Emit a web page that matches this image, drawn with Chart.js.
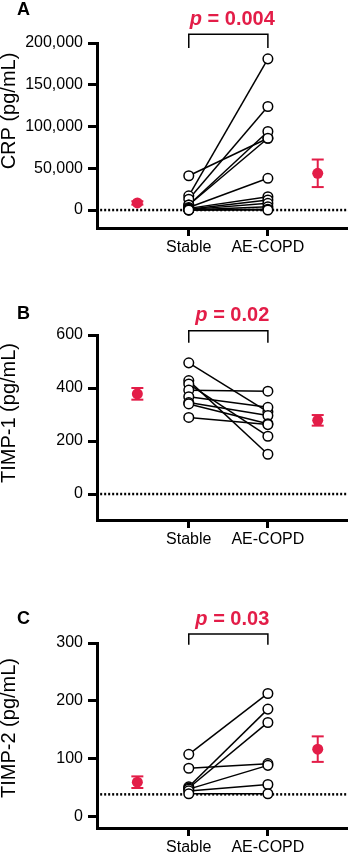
<!DOCTYPE html>
<html>
<head>
<meta charset="utf-8">
<script src="https://cdn.jsdelivr.net/npm/chart.js@4/dist/chart.umd.min.js"></script>
<style>
  html, body { margin: 0; padding: 0; background: #fff; width: 355px; height: 853px; overflow: hidden; }
  .panel { position: absolute; left: 0; width: 355px; }
  canvas { display: block; }
</style>
</head>
<body>
<div class="panel" style="top:0px;height:285px"><canvas id="cA" width="355" height="285" style="width:355px;height:285px"></canvas></div>
<div class="panel" style="top:285px;height:283px"><canvas id="cB" width="355" height="283" style="width:355px;height:283px"></canvas></div>
<div class="panel" style="top:568px;height:285px"><canvas id="cC" width="355" height="285" style="width:355px;height:285px"></canvas></div>
<script>
// ---------------- DATA ----------------
const categories = ['Stable', 'AE-COPD'];

// Panel A: CRP (pg/mL), paired patients
const crpStable = [41000, 17000, 13000, 6000, 6000, 3000, 2000, 1000, 500, 200, 0, 0];
const crpAECOPD = [86000, 181000, 124000, 94000, 86000, 38000, 16000, 12000, 8000, 4000, 1000, 0];
const crpMean = [8500, 44000];
const crpSEM = [2000, 16500];
const crpTicks = [0, 50000, 100000, 150000, 200000];

// Panel B: TIMP-1 (pg/mL)
const timp1Stable = [495, 428, 415, 392, 367, 345, 340, 289];
const timp1AECOPD = [310, 150, 218, 388, 327, 296, 265, 262];
const timp1Mean = [378, 278];
const timp1SEM = [22, 20];
const timp1Ticks = [0, 200, 400, 600];

// Panel C: TIMP-2 (pg/mL)
const timp2Stable = [108, 84, 52, 50, 48, 45, 40];
const timp2AECOPD = [213, 92, 186, 163, 89, 56, 40];
const timp2Mean = [60, 117];
const timp2SEM = [10, 22];
const timp2Ticks = [0, 100, 200, 300];

const pValues = ['0.004', '0.02', '0.03'];
const refLineValues = [0, 0, 39];

// ---------------- STYLE / LAYOUT ----------------
const RED = '#e31d48';
const FONT = '"Liberation Sans", Arial, Helvetica, sans-serif';
const X_POS = { stable: 1, ae: 2, meanLeft: 0.35, meanRight: 2.63 };
const X_MIN = -0.16, X_MAX = 3.0;

const panelText = {
  id: 'panelText',
  afterDraw(chart, args, o) {
    const ctx = chart.ctx;
    const xs = chart.scales.x, ys = chart.scales.y;
    ctx.save();
    ctx.fillStyle = '#000';
    ctx.textBaseline = 'alphabetic';
    // panel letter
    ctx.textAlign = 'left';
    ctx.font = 'bold 18px ' + FONT;
    ctx.fillText(o.letter, 17, o.letterY);
    // y axis title
    ctx.save();
    ctx.translate(15, o.titleY);
    ctx.rotate(-Math.PI / 2);
    ctx.textAlign = 'center';
    ctx.font = '20px ' + FONT;
    ctx.fillText(o.title, 0, 0);
    ctx.restore();
    // p value
    const cx = (xs.getPixelForValue(X_POS.stable) + xs.getPixelForValue(X_POS.ae)) / 2 + 4;
    const by = ys.getPixelForValue(o.bracket[1]) - 9.5;
    ctx.fillStyle = RED;
    ctx.font = 'italic bold 20px ' + FONT;
    const pW = ctx.measureText('p').width;
    ctx.font = 'bold 20px ' + FONT;
    const rest = ' = ' + o.p;
    const rW = ctx.measureText(rest).width;
    const x0 = cx - (pW + rW) / 2;
    ctx.textAlign = 'left';
    ctx.font = 'italic bold 20px ' + FONT;
    ctx.fillText('p', x0, by);
    ctx.font = 'bold 20px ' + FONT;
    ctx.fillText(rest, x0 + pW, by);
    ctx.restore();
  }
};

function makePanel(id, cfg) {
  const datasets = [];
  // red means (top)
  datasets.push({
    data: [{x: X_POS.meanLeft, y: cfg.mean[0]}, {x: X_POS.meanRight, y: cfg.mean[1]}],
    pointRadius: 5.5, pointBackgroundColor: RED, pointBorderWidth: 0, showLine: false, order: 0
  });
  // error bars
  [X_POS.meanLeft, X_POS.meanRight].forEach((xv, i) => {
    datasets.push({
      data: [{x: xv, y: cfg.mean[i] - cfg.sem[i]}, {x: xv, y: cfg.mean[i] + cfg.sem[i]}],
      showLine: true, borderColor: RED, borderWidth: 2,
      pointStyle: 'line', pointRadius: 6, pointBorderColor: RED, pointBorderWidth: 2, order: 1
    });
  });
  // open circles
  const circles = [];
  cfg.stable.forEach(v => circles.push({x: X_POS.stable, y: v}));
  cfg.ae.forEach(v => circles.push({x: X_POS.ae, y: v}));
  datasets.push({
    data: circles, showLine: false, pointRadius: 4.8,
    pointBackgroundColor: '#fff', pointBorderColor: '#000', pointBorderWidth: 1.5, order: 2
  });
  // paired lines
  cfg.stable.forEach((v, i) => {
    datasets.push({
      data: [{x: X_POS.stable, y: v}, {x: X_POS.ae, y: cfg.ae[i]}],
      showLine: true, borderColor: '#000', borderWidth: 1.5, pointRadius: 0, order: 4
    });
  });
  // bracket
  datasets.push({
    data: [{x: X_POS.stable, y: cfg.bracket[0]}, {x: X_POS.stable, y: cfg.bracket[1]},
           {x: X_POS.ae, y: cfg.bracket[1]}, {x: X_POS.ae, y: cfg.bracket[0]}],
    showLine: true, borderColor: '#000', borderWidth: 1.5, pointRadius: 0, clip: false, order: 5
  });
  // dotted reference line
  datasets.push({
    data: [{x: X_MIN + 0.04, y: cfg.ref}, {x: X_MAX, y: cfg.ref}],
    showLine: true, borderColor: '#000', borderWidth: 2.5, borderDash: [2, 2],
    pointRadius: 0, order: 6
  });

  return new Chart(document.getElementById(id), {
    type: 'scatter',
    data: { datasets },
    plugins: [panelText],
    options: {
      responsive: false, animation: false, events: [],
      layout: { padding: { top: cfg.padTop, right: 3, left: 0, bottom: 0 } },
      plugins: {
        legend: { display: false }, tooltip: { enabled: false },
        panelText: { letter: cfg.letter, letterY: cfg.letterY, title: cfg.title, titleY: cfg.titleY,
                     p: cfg.p, bracket: cfg.bracket }
      },
      scales: {
        x: {
          type: 'linear', min: X_MIN, max: X_MAX,
          afterBuildTicks: s => { s.ticks = [{value: X_POS.stable}, {value: X_POS.ae}]; },
          afterFit: s => { s.height = cfg.xH; },
          border: { display: true, color: '#000', width: 3 },
          grid: { display: true, drawOnChartArea: false, drawTicks: true, tickLength: 8, tickWidth: 3, tickColor: '#000' },
          ticks: { color: '#000', font: { family: FONT, size: 16 }, padding: 2, autoSkip: false, maxRotation: 0,
                   callback: v => categories[Math.round(v) - 1] }
        },
        y: {
          type: 'linear', min: cfg.yMin, max: cfg.yMax,
          afterBuildTicks: s => { s.ticks = cfg.ticks.map(v => ({value: v})); },
          afterFit: s => { s.width = 97; },
          border: { display: true, color: '#000', width: 3 },
          grid: { display: true, drawOnChartArea: false, drawTicks: true, tickLength: 9, tickWidth: 3, tickColor: '#000' },
          ticks: { color: '#000', font: { family: FONT, size: 16 }, padding: 5,
                   callback: v => Number(v).toLocaleString('en-US') }
        }
      }
    }
  });
}

makePanel('cA', {
  stable: crpStable, ae: crpAECOPD, mean: crpMean, sem: crpSEM, ticks: crpTicks,
  yMin: -21500, yMax: 200000, padTop: 43, xH: 57, ref: refLineValues[0],
  bracket: [194000, 210500], p: pValues[0], letter: 'A', letterY: 15,
  title: 'CRP (pg/mL)', titleY: 111
});
makePanel('cB', {
  stable: timp1Stable, ae: timp1AECOPD, mean: timp1Mean, sem: timp1SEM, ticks: timp1Ticks,
  yMin: -98, yMax: 600, padTop: 50, xH: 48, ref: refLineValues[1],
  bracket: [571, 616], p: pValues[1], letter: 'B', letterY: 34,
  title: 'TIMP-1 (pg/mL)', titleY: 128
});
makePanel('cC', {
  stable: timp2Stable, ae: timp2AECOPD, mean: timp2Mean, sem: timp2SEM, ticks: timp2Ticks,
  yMin: -19, yMax: 300, padTop: 75, xH: 25, ref: refLineValues[2],
  bracket: [297, 315.5], p: pValues[2], letter: 'C', letterY: 56,
  title: 'TIMP-2 (pg/mL)', titleY: 160
});
</script>
</body>
</html>
